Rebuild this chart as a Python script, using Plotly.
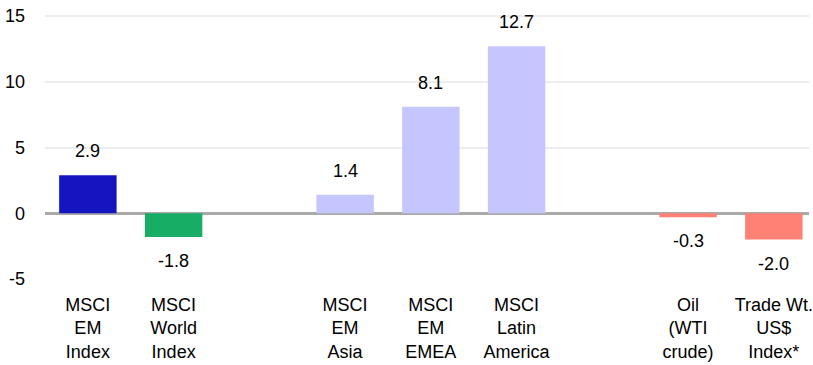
import plotly.graph_objects as go

categories = ["MSCI<br>EM<br>Index", "MSCI<br>World<br>Index", "",
              "MSCI<br>EM<br>Asia", "MSCI<br>EM<br>EMEA", "MSCI<br>Latin<br>America", "",
              "Oil<br>(WTI<br>crude)", "Trade Wt.<br>US$<br>Index*"]
values = [2.9, -1.8, None, 1.4, 8.1, 12.7, None, -0.3, -2.0]
colors = ["#1414C0", "#17AD65", "#FFFFFF", "#C6C6FF", "#C6C6FF", "#C6C6FF", "#FFFFFF", "#FF8075", "#FF8075"]
y_ticks = [-5, 0, 5, 10, 15]

FONT = "Liberation Sans Narrow, Arial Narrow, Liberation Sans, Arial, sans-serif"
xs = list(range(len(categories)))

fig = go.Figure()
fig.add_trace(go.Bar(
    x=xs, y=[v if v is not None else 0 for v in values],
    marker=dict(color=colors, line=dict(width=0)),
    width=0.67, hoverinfo="skip", showlegend=False,
))

for x, v in zip(xs, values):
    if v is None:
        continue
    fig.add_annotation(
        x=x, y=v, xref="x", yref="y", text=f"{v:.1f}", showarrow=False,
        yanchor="bottom" if v >= 0 else "top",
        yshift=12 if v >= 0 else -12,
        font=dict(family=FONT, size=18, color="#000000"),
    )

fig.update_layout(
    width=813, height=365,
    margin=dict(l=45, r=0, t=0, b=86),
    paper_bgcolor="#FFFFFF", plot_bgcolor="#FFFFFF",
    font=dict(family=FONT, size=18, color="#000000"),
    xaxis=dict(
        range=[-0.5, 8.41], tickmode="array", tickvals=xs, ticktext=categories,
        showgrid=False, zeroline=False, showline=False, ticks="",
        ticklabelstandoff=13, ticklabeloverflow="allow", fixedrange=True,
    ),
    yaxis=dict(
        range=[-5, 16.22], tickmode="array", tickvals=y_ticks,
        ticktext=[str(t) for t in y_ticks],
        showgrid=True, gridcolor="#EDEDED", gridwidth=2,
        zeroline=True, zerolinecolor="#AAAAAA", zerolinewidth=3,
        showline=False, ticks="", ticklabelstandoff=19, fixedrange=True,
    ),
)

fig.write_html("out.html")
